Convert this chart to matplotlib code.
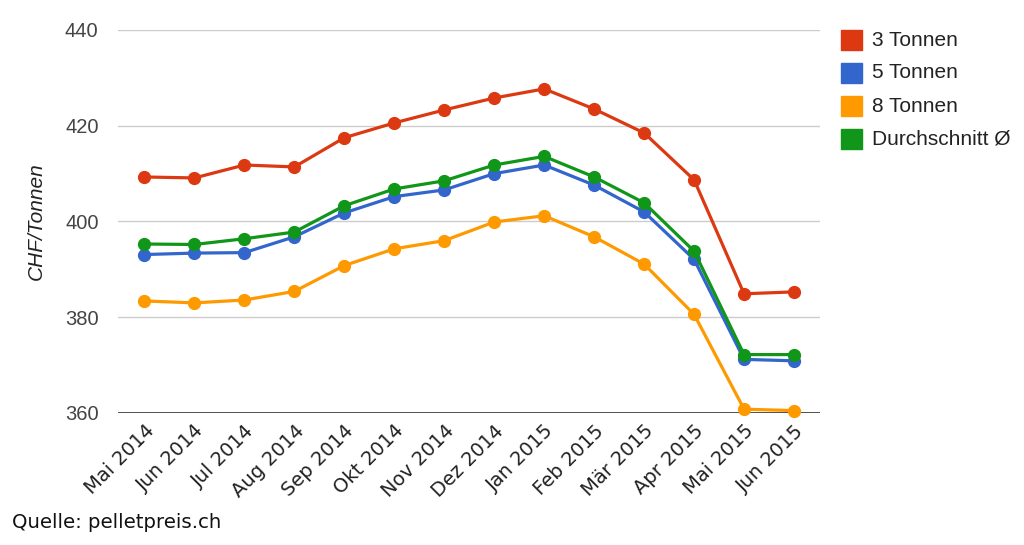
import matplotlib
matplotlib.use("Agg")
import matplotlib.pyplot as plt
from matplotlib.patches import Rectangle

months = ["Mai 2014", "Jun 2014", "Jul 2014", "Aug 2014", "Sep 2014", "Okt 2014",
          "Nov 2014", "Dez 2014", "Jan 2015", "Feb 2015", "Mär 2015", "Apr 2015",
          "Mai 2015", "Jun 2015"]

t3 = [409.3, 409.1, 411.8, 411.4, 417.5, 420.6, 423.3, 425.8, 427.7, 423.5, 418.5, 408.7, 384.9, 385.3]
t5 = [393.1, 393.4, 393.5, 396.8, 401.8, 405.2, 406.6, 410.0, 411.8, 407.6, 402.0, 392.1, 371.2, 370.9]
t8 = [383.4, 383.0, 383.6, 385.4, 390.8, 394.3, 396.0, 399.9, 401.2, 396.8, 391.1, 380.6, 360.8, 360.5]
avg = [395.3, 395.2, 396.4, 397.8, 403.3, 406.8, 408.5, 411.8, 413.6, 409.3, 403.9, 393.8, 372.2, 372.2]

labels = ["3 Tonnen", "5 Tonnen", "8 Tonnen", "Durchschnitt Ø"]
colors = ["#dc3912", "#3366cc", "#ff9900", "#109618"]

fig = plt.figure(figsize=(10.24, 5.45), dpi=100)
ax = fig.add_axes([118 / 1024, 1 - 413 / 545, (820 - 118) / 1024, (413 - 30) / 545])

x = list(range(len(months)))
for ys, c in zip([t3, t5, t8, avg], colors):
    ax.plot(x, ys, color=c, lw=2.3, marker="o", ms=8.5, clip_on=False, zorder=3)

ax.set_xlim(-0.53, 13.52)
ax.set_ylim(360, 440)
ax.set_yticks([360, 380, 400, 420, 440])
ax.grid(axis="y", color="#cccccc", lw=1)
ax.axhline(360, color="#333333", lw=1.2, zorder=2)
for s in ax.spines.values():
    s.set_visible(False)
ax.tick_params(length=0)
ax.tick_params(axis="y", labelsize=14.5, labelcolor="#444444", pad=14)
for lab in ax.get_yticklabels():
    lab.set_family("Liberation Sans")

ax.set_xticks(x)
ax.set_xticklabels(months, rotation=45, ha="right", rotation_mode="anchor",
                   fontsize=14, color="#222222", family="DejaVu Sans")
ax.tick_params(axis="x", pad=6)

ax.set_ylabel("CHF/Tonnen", fontsize=15, style="italic", color="#222222",
              family="Liberation Sans", labelpad=14)

# legend
for i, (lab, c) in enumerate(zip(labels, colors)):
    yc = 1 - (40 + i * 33) / 545
    fig.patches.append(Rectangle((841 / 1024, yc - 10 / 545), 21 / 1024, 20 / 545,
                                 transform=fig.transFigure, color=c))
    fig.text(872 / 1024, yc, lab, fontsize=15, color="#222222",
             family="Liberation Sans", va="center", ha="left")

fig.text(12 / 1024, 1 - 523 / 545, "Quelle: pelletpreis.ch", fontsize=14.2,
         color="#111111", family="DejaVu Sans", va="center", ha="left")

fig.savefig("out.png", dpi=100)
